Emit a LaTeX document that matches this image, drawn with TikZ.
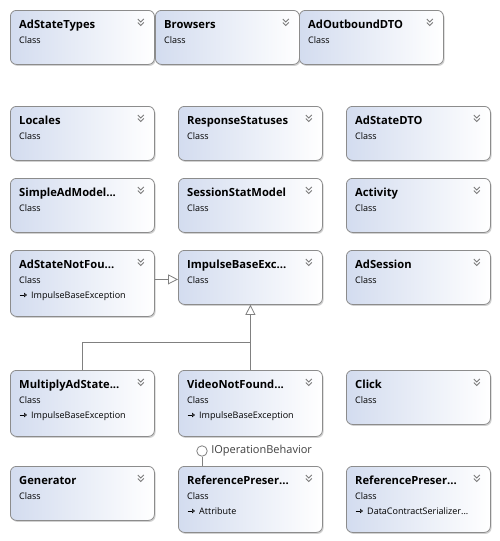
\documentclass[tikz,border=0pt]{standalone}
\usepackage{fontspec}
\setmainfont{Open Sans}
\usetikzlibrary{arrows.meta,shadows}

\definecolor{boxline}{HTML}{8C8C8C}
\definecolor{boxleft}{HTML}{D3DCEF}
\definecolor{connline}{HTML}{808080}
\definecolor{chevc}{HTML}{7A7A7A}
\definecolor{labelc}{HTML}{404040}

\tikzset{
  cbox/.style={rectangle, rounded corners=6pt, draw=boxline, line width=0.8pt,
    left color=boxleft, right color=white, minimum width=144pt, anchor=north west,
    inner sep=0pt,
    drop shadow={shadow xshift=1.2pt, shadow yshift=-1.5pt, fill=black, opacity=0.18}},
  ctitle/.style={anchor=base west, font=\bfseries\fontsize{11.2}{13}\selectfont, inner sep=0pt, text=black},
  csub/.style={anchor=base west, font=\fontsize{9}{11}\selectfont, inner sep=0pt, text=black},
  chev/.style={draw=chevc, line width=0.8pt},
  conn/.style={draw=connline, line width=0.8pt},
  inherit/.style={conn, -{Triangle[open, length=10pt, width=10pt, fill=white]}},
  basearrow/.style={draw=black, line width=0.6pt, -{Triangle[open, length=3pt, width=4.5pt]}},
}

% class box: name, x, y, height, title
\newcommand\umlclass[5]{%
  \node[cbox, minimum height=#4pt] (#1) at (#2,#3) {};
  \node[ctitle] (#1-t) at ([xshift=9pt,yshift=-18pt]#1.north west) {#5};
  \node[csub] (#1-s) at ([xshift=9pt,yshift=-33pt]#1.north west) {Class};
  \draw[chev] ([xshift=-17pt,yshift=-9pt]#1.north east) -- ++(3pt,-3pt) -- ++(3pt,3pt);
  \draw[chev] ([xshift=-17pt,yshift=-12.5pt]#1.north east) -- ++(3pt,-3pt) -- ++(3pt,3pt);
}
% base type line under the stereotype
\newcommand\umlbase[2]{%
  \draw[basearrow] ([xshift=9.5pt,yshift=-45pt]#1.north west) -- ++(7.5pt,0pt);
  \node[csub] (#1-b) at ([xshift=21pt,yshift=-48pt]#1.north west) {#2};
}

\begin{document}
\begin{tikzpicture}[x=1pt, y=-1pt]
  \fill[white] (0,0) rectangle (499,541);
  \useasboundingbox (0,0) rectangle (499,541);

  \umlclass{adstatetypes}{10}{10}{54}{AdStateTypes}
  \umlclass{browsers}{155}{10}{54}{Browsers}
  \umlclass{adoutbound}{299}{10}{54}{AdOutboundDTO}

  \umlclass{locales}{10}{106}{54}{Locales}
  \umlclass{responsestatuses}{178}{106}{54}{ResponseStatuses}
  \umlclass{adstatedto}{346}{106}{54}{AdStateDTO}

  \umlclass{simpleadmodel}{10}{178}{54}{SimpleAdModel...}
  \umlclass{sessionstatmodel}{178}{178}{54}{SessionStatModel}
  \umlclass{activity}{346}{178}{54}{Activity}

  \umlclass{adstatenotfound}{10}{250}{66}{AdStateNotFou...}
  \umlbase{adstatenotfound}{ImpulseBaseException}
  \umlclass{impulsebase}{178}{250}{54}{ImpulseBaseExc...}
  \umlclass{adsession}{346}{250}{54}{AdSession}

  \umlclass{multiply}{10}{370}{66}{MultiplyAdState...}
  \umlbase{multiply}{ImpulseBaseException}
  \umlclass{videonotfound}{178}{370}{66}{VideoNotFound...}
  \umlbase{videonotfound}{ImpulseBaseException}
  \umlclass{click}{346}{370}{54}{Click}

  \umlclass{generator}{10}{466}{54}{Generator}
  \umlclass{refpres1}{178}{466}{66}{ReferencePreser...}
  \umlbase{refpres1}{Attribute}
  \umlclass{refpres2}{346}{466}{66}{ReferencePreser...}
  \umlbase{refpres2}{DataContractSerializer...}

  % inheritance
  \coordinate (ahead) at ([yshift=-2pt]impulsebase.west);
  \draw[inherit] (ahead -| adstatenotfound.east) -- (ahead);
  \draw[inherit] (videonotfound.north) -- (impulsebase.south);
  \coordinate (join) at ([yshift=28pt]videonotfound.north);
  \draw[conn] (multiply.north) |- (join);

  % implemented interface
  \node[circle, draw=connline, line width=0.8pt, fill=white, minimum size=10.5pt, inner sep=0pt]
    (lolly) at ([xshift=24pt,yshift=15pt]refpres1.north west) {};
  \draw[conn] (lolly.south) -- (lolly.south |- refpres1.north);
  \node[anchor=west, inner sep=0pt, font=\fontsize{11}{13}\selectfont, text=labelc]
    (iob) at ([xshift=3.5pt]lolly.east) {IOperationBehavior};
\end{tikzpicture}
\end{document}
